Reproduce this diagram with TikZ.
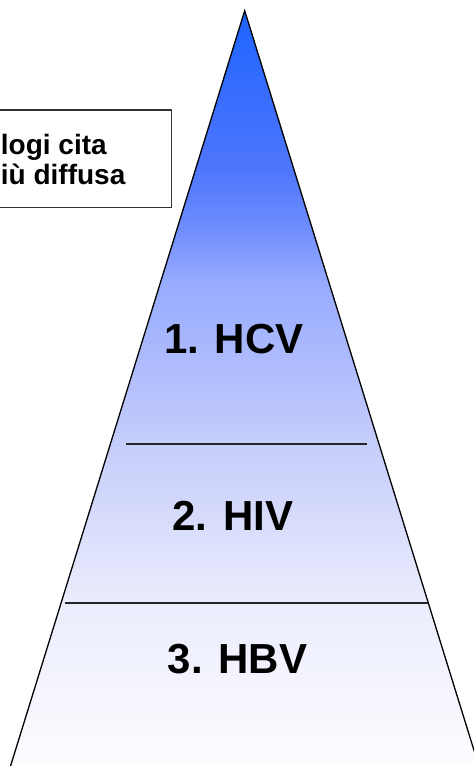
\documentclass[tikz,border=0pt]{standalone}
\usepackage{fontspec}
\setmainfont{Liberation Sans}
\usepackage{xcolor}
\usetikzlibrary{positioning}
\definecolor{pyrtop}{RGB}{30,100,255}
\definecolor{pyrA}{RGB}{78,118,252}
\definecolor{pyrB}{RGB}{112,142,253}
\definecolor{pyrC}{RGB}{150,170,255}
\definecolor{pyrD}{RGB}{196,204,251}
\definecolor{pyrE}{RGB}{234,236,252}
\definecolor{pyrF}{RGB}{252,252,255}
\pgfdeclareverticalshading{pyramid}{100bp}{
  color(0bp)=(white); color(25bp)=(white); color(26.9bp)=(pyrF);
  color(37.2bp)=(pyrE); color(47.5bp)=(pyrD); color(57.7bp)=(pyrC);
  color(60.9bp)=(pyrB); color(64.8bp)=(pyrA); color(75bp)=(pyrtop);
  color(100bp)=(pyrtop)}
\tikzset{
  level/.style = {font=\bfseries\fontsize{42}{42}\selectfont, anchor=base, inner sep=0pt},
  notetext/.style = {font=\bfseries\fontsize{28}{30}\selectfont, align=left, inner sep=0pt},
  divider/.style = {line width=1.3pt, black!85},
  frame/.style = {line width=1.5pt, black!80},
}
\begin{document}
\begin{tikzpicture}[x=1pt, y=-1pt]
  \useasboundingbox (0,0) rectangle (474,766);
  % pyramid
  \coordinate (apex) at (244.7,10.7);
  \coordinate (baseL) at (3.1,790);
  \coordinate (baseR) at (486.3,790);
  \shade[shading=pyramid] (apex) -- (baseL) -- (baseR) -- cycle;
  \draw[line width=1.3pt] (baseL) -- (apex) -- (baseR);
  \draw[divider] (125.7,444) -- (367.3,444);
  \draw[divider] (65,603) -- (428.3,603);
  % labels
  \node[level] (hcv) at (234,353) {1. HCV};
  \node[level] (hiv) at (232.8,530) {2. HIV};
  \node[level] (hbv) at (237.5,673) {3. HBV};
  % note box, cut off on the left
  \draw[frame, fill=white] (-30,110) rectangle (171.7,207.3);
  \node[notetext, anchor=base west] (note) at (0.7,184) {logi cita\\iù diffusa};
\end{tikzpicture}
\end{document}
